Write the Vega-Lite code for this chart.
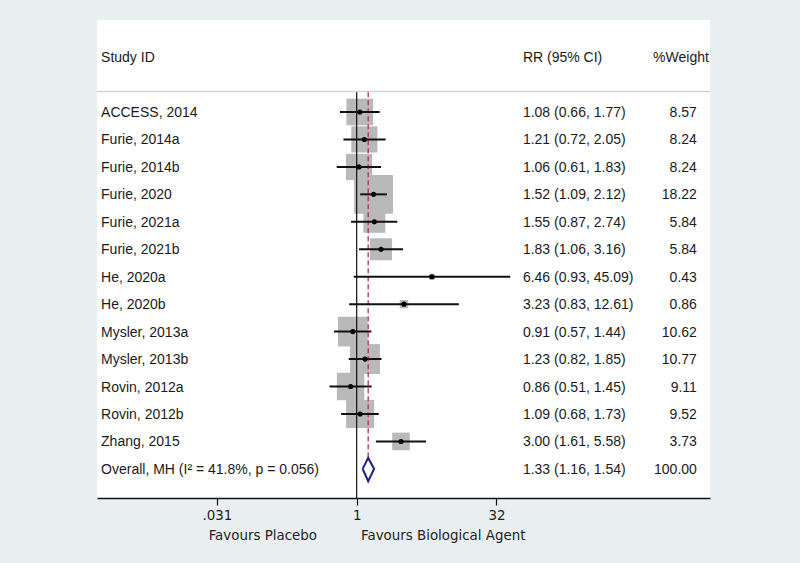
{
  "$schema": "https://vega.github.io/schema/vega-lite/v6.json",
  "width": 613,
  "height": 478,
  "autosize": "none",
  "padding": {"left": 97, "top": 20, "right": 90, "bottom": 65},
  "background": "#e9eff0",
  "config": {
    "view": {"fill": "white", "stroke": null},
    "axisY": {"disable": true},
    "text": {"dy": 1}
  },
  "datasets": {
    "studies": [
      {"row": 0, "study": "ACCESS, 2014", "rr": 1.08, "lo": 0.66, "hi": 1.77, "w": 8.57, "rrtxt": "1.08 (0.66, 1.77)", "wtxt": "8.57"},
      {"row": 1, "study": "Furie, 2014a", "rr": 1.21, "lo": 0.72, "hi": 2.05, "w": 8.24, "rrtxt": "1.21 (0.72, 2.05)", "wtxt": "8.24"},
      {"row": 2, "study": "Furie, 2014b", "rr": 1.06, "lo": 0.61, "hi": 1.83, "w": 8.24, "rrtxt": "1.06 (0.61, 1.83)", "wtxt": "8.24"},
      {"row": 3, "study": "Furie, 2020", "rr": 1.52, "lo": 1.09, "hi": 2.12, "w": 18.22, "rrtxt": "1.52 (1.09, 2.12)", "wtxt": "18.22"},
      {"row": 4, "study": "Furie, 2021a", "rr": 1.55, "lo": 0.87, "hi": 2.74, "w": 5.84, "rrtxt": "1.55 (0.87, 2.74)", "wtxt": "5.84"},
      {"row": 5, "study": "Furie, 2021b", "rr": 1.83, "lo": 1.06, "hi": 3.16, "w": 5.84, "rrtxt": "1.83 (1.06, 3.16)", "wtxt": "5.84"},
      {"row": 6, "study": "He, 2020a", "rr": 6.46, "lo": 0.93, "hi": 45.09, "w": 0.43, "rrtxt": "6.46 (0.93, 45.09)", "wtxt": "0.43"},
      {"row": 7, "study": "He, 2020b", "rr": 3.23, "lo": 0.83, "hi": 12.61, "w": 0.86, "rrtxt": "3.23 (0.83, 12.61)", "wtxt": "0.86"},
      {"row": 8, "study": "Mysler, 2013a", "rr": 0.91, "lo": 0.57, "hi": 1.44, "w": 10.62, "rrtxt": "0.91 (0.57, 1.44)", "wtxt": "10.62"},
      {"row": 9, "study": "Mysler, 2013b", "rr": 1.23, "lo": 0.82, "hi": 1.85, "w": 10.77, "rrtxt": "1.23 (0.82, 1.85)", "wtxt": "10.77"},
      {"row": 10, "study": "Rovin, 2012a", "rr": 0.86, "lo": 0.51, "hi": 1.45, "w": 9.11, "rrtxt": "0.86 (0.51, 1.45)", "wtxt": "9.11"},
      {"row": 11, "study": "Rovin, 2012b", "rr": 1.09, "lo": 0.68, "hi": 1.73, "w": 9.52, "rrtxt": "1.09 (0.68, 1.73)", "wtxt": "9.52"},
      {"row": 12, "study": "Zhang, 2015", "rr": 3.00, "lo": 1.61, "hi": 5.58, "w": 3.73, "rrtxt": "3.00 (1.61, 5.58)", "wtxt": "3.73"}
    ],
    "overall": [
      {"row": 13, "study": "Overall, MH (I² = 41.8%, p = 0.056)", "rrtxt": "1.33 (1.16, 1.54)", "wtxt": "100.00"}
    ],
    "diamond": [
      {"i": 0, "x": 1.16, "y": 13},
      {"i": 1, "x": 1.33, "y": 12.6},
      {"i": 2, "x": 1.54, "y": 13},
      {"i": 3, "x": 1.33, "y": 13.45},
      {"i": 4, "x": 1.16, "y": 13}
    ],
    "one": [{}]
  },
  "layer": [
    {
      "data": {"name": "studies"},
      "mark": {"type": "square", "color": "#b9b9b9", "opacity": 1},
      "encoding": {
        "x": {
          "field": "rr", "type": "quantitative",
          "scale": {"type": "log", "base": 2, "domain": [0.001598, 6382], "nice": false, "zero": false},
          "axis": {
            "values": [0.03125, 1, 32],
            "labelExpr": "datum.value < 0.1 ? '.031' : datum.value < 2 ? '1' : '32'",
            "title": null,
            "grid": false,
            "domainColor": "#111111",
            "domainWidth": 1.5,
            "tickColor": "#111111",
            "tickWidth": 1.2,
            "tickSize": 7,
            "labelFont": "DejaVu Sans",
            "labelFontSize": 13.4,
            "labelColor": "#222222",
            "labelPadding": 3
          }
        },
        "y": {"field": "row", "type": "quantitative", "scale": {"domain": [-3.35, 14.06], "reverse": true, "nice": false, "zero": false}, "axis": null},
        "size": {"field": "w", "type": "quantitative", "scale": {"type": "linear", "domain": [0, 20], "range": [0, 1660], "zero": true}, "legend": null}
      }
    },
    {
      "data": {"name": "one"},
      "mark": {"type": "rule", "color": "#d4d4d4", "strokeWidth": 1.5},
      "encoding": {"y": {"datum": -0.75, "type": "quantitative", "axis": null}}
    },
    {
      "data": {"name": "one"},
      "mark": {"type": "rule", "color": "#111111", "strokeWidth": 1.2},
      "encoding": {
        "x": {"datum": 1, "type": "quantitative"},
        "y": {"datum": -0.72, "type": "quantitative", "axis": null},
        "y2": {"datum": 14.06}
      }
    },
    {
      "data": {"name": "one"},
      "mark": {"type": "rule", "color": "#a83545", "strokeWidth": 1.3, "strokeDash": [5, 3]},
      "encoding": {
        "x": {"datum": 1.33, "type": "quantitative"},
        "y": {"datum": -0.72, "type": "quantitative", "axis": null},
        "y2": {"datum": 12.62}
      }
    },
    {
      "data": {"name": "studies"},
      "mark": {"type": "rule", "color": "#111111", "strokeWidth": 2},
      "encoding": {
        "x": {"field": "lo", "type": "quantitative"},
        "x2": {"field": "hi"},
        "y": {"field": "row", "type": "quantitative", "axis": null}
      }
    },
    {
      "data": {"name": "studies"},
      "mark": {"type": "circle", "color": "#000000", "opacity": 1, "size": 26},
      "encoding": {
        "x": {"field": "rr", "type": "quantitative"},
        "y": {"field": "row", "type": "quantitative", "axis": null}
      }
    },
    {
      "data": {"name": "diamond"},
      "mark": {"type": "line", "color": "#1c1c84", "strokeWidth": 2},
      "encoding": {
        "x": {"field": "x", "type": "quantitative"},
        "y": {"field": "y", "type": "quantitative", "axis": null},
        "order": {"field": "i", "type": "quantitative"}
      }
    },
    {
      "data": {"name": "studies"},
      "mark": {"type": "text", "align": "left", "baseline": "middle", "font": "Liberation Sans", "fontSize": 14, "color": "#1a1a1a"},
      "encoding": {
        "x": {"datum": 0.001767, "type": "quantitative"},
        "y": {"field": "row", "type": "quantitative", "axis": null},
        "text": {"field": "study"}
      }
    },
    {
      "data": {"name": "overall"},
      "mark": {"type": "text", "align": "left", "baseline": "middle", "font": "Liberation Sans", "fontSize": 14, "color": "#1a1a1a"},
      "encoding": {
        "x": {"datum": 0.001767, "type": "quantitative"},
        "y": {"field": "row", "type": "quantitative", "axis": null},
        "text": {"field": "study"}
      }
    },
    {
      "data": {"name": "studies"},
      "mark": {"type": "text", "align": "left", "baseline": "middle", "font": "Liberation Sans", "fontSize": 14, "color": "#1a1a1a"},
      "encoding": {
        "x": {"datum": 61.65, "type": "quantitative"},
        "y": {"field": "row", "type": "quantitative", "axis": null},
        "text": {"field": "rrtxt"}
      }
    },
    {
      "data": {"name": "overall"},
      "mark": {"type": "text", "align": "left", "baseline": "middle", "font": "Liberation Sans", "fontSize": 14, "color": "#1a1a1a"},
      "encoding": {
        "x": {"datum": 61.65, "type": "quantitative"},
        "y": {"field": "row", "type": "quantitative", "axis": null},
        "text": {"field": "rrtxt"}
      }
    },
    {
      "data": {"name": "studies"},
      "mark": {"type": "text", "align": "right", "baseline": "middle", "font": "Liberation Sans", "fontSize": 14, "color": "#1a1a1a"},
      "encoding": {
        "x": {"datum": 4609, "type": "quantitative"},
        "y": {"field": "row", "type": "quantitative", "axis": null},
        "text": {"field": "wtxt"}
      }
    },
    {
      "data": {"name": "overall"},
      "mark": {"type": "text", "align": "right", "baseline": "middle", "font": "Liberation Sans", "fontSize": 14, "color": "#1a1a1a"},
      "encoding": {
        "x": {"datum": 4609, "type": "quantitative"},
        "y": {"field": "row", "type": "quantitative", "axis": null},
        "text": {"field": "wtxt"}
      }
    },
    {
      "data": {"name": "one"},
      "mark": {"type": "text", "align": "left", "baseline": "middle", "font": "Liberation Sans", "fontSize": 14, "color": "#1a1a1a", "text": "Study ID"},
      "encoding": {
        "x": {"datum": 0.001767, "type": "quantitative"},
        "y": {"datum": -2, "type": "quantitative", "axis": null}
      }
    },
    {
      "data": {"name": "one"},
      "mark": {"type": "text", "align": "left", "baseline": "middle", "font": "Liberation Sans", "fontSize": 14, "color": "#1a1a1a", "text": "RR (95% CI)"},
      "encoding": {
        "x": {"datum": 61.65, "type": "quantitative"},
        "y": {"datum": -2, "type": "quantitative", "axis": null}
      }
    },
    {
      "data": {"name": "one"},
      "mark": {"type": "text", "align": "right", "baseline": "middle", "font": "Liberation Sans", "fontSize": 14, "color": "#1a1a1a", "text": "%Weight"},
      "encoding": {
        "x": {"datum": 6208, "type": "quantitative"},
        "y": {"datum": -2, "type": "quantitative", "axis": null}
      }
    },
    {
      "data": {"name": "one"},
      "mark": {"type": "text", "align": "right", "baseline": "middle", "font": "DejaVu Sans", "fontSize": 13.4, "color": "#222222", "text": "Favours Placebo"},
      "encoding": {
        "x": {"datum": 0.3737, "type": "quantitative"},
        "y": {"datum": 15.4, "type": "quantitative", "axis": null}
      }
    },
    {
      "data": {"name": "one"},
      "mark": {"type": "text", "align": "left", "baseline": "middle", "font": "DejaVu Sans", "fontSize": 13.4, "color": "#222222", "text": "Favours Biological Agent"},
      "encoding": {
        "x": {"datum": 1.113, "type": "quantitative"},
        "y": {"datum": 15.4, "type": "quantitative", "axis": null}
      }
    }
  ]
}
